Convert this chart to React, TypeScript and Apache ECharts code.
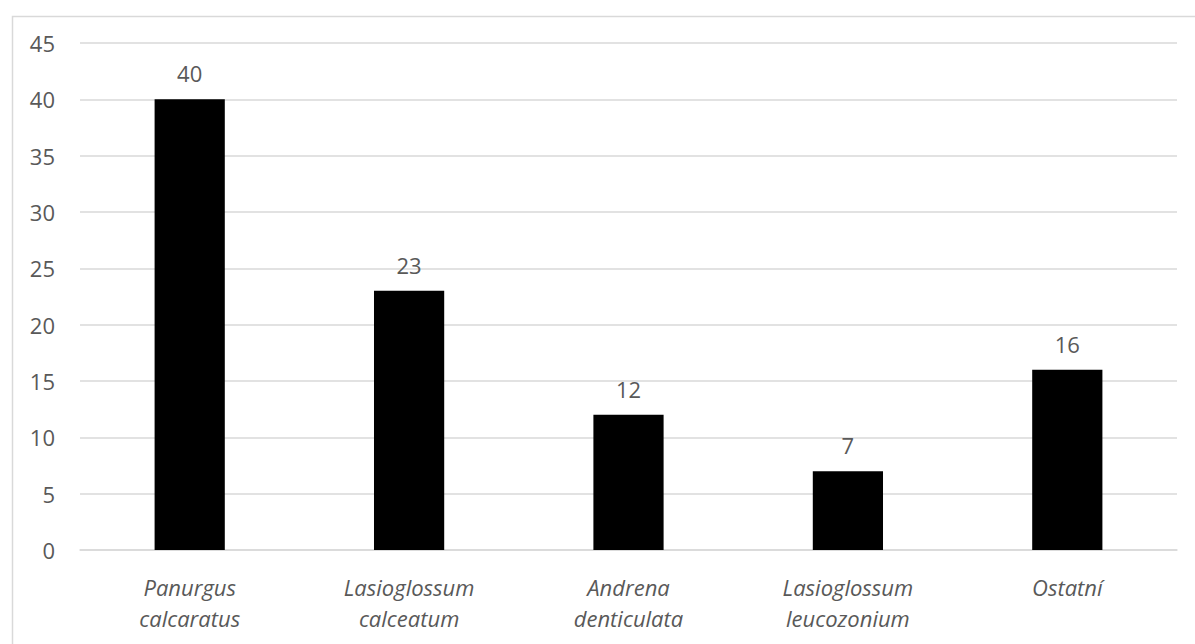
import React, { useEffect, useRef } from "react";
import * as echarts from "echarts";

const categories = [
  "Panurgus\ncalcaratus",
  "Lasioglossum\ncalceatum",
  "Andrena\ndenticulata",
  "Lasioglossum\nleucozonium",
  "Ostatní",
];
const values = [40, 23, 12, 7, 16];
const yMin = 0;
const yMax = 45;
const yInterval = 5;

export default function App() {
  const ref = useRef<HTMLDivElement>(null);
  useEffect(() => {
    if (!ref.current) return;
    const chart = echarts.init(ref.current, undefined, { renderer: "svg" });
    const font = "'Open Sans', 'Noto Sans', sans-serif";
    chart.setOption({
      animation: false,
      backgroundColor: "#ffffff",
      graphic: [
        {
          type: "rect",
          left: 10,
          top: 14,
          shape: { width: 1200, height: 650 },
          style: { fill: "none", stroke: "#d9d9d9", lineWidth: 1.5 },
          silent: true,
        },
      ],
      grid: { left: 80, right: 18, top: 43, bottom: 94, containLabel: false },
      xAxis: {
        type: "category",
        data: categories,
        axisLine: { lineStyle: { color: "#d9d9d9", width: 1.5 } },
        axisTick: { show: false },
        axisLabel: {
          color: "#595959",
          fontFamily: font,
          fontSize: 22,
          fontStyle: "italic",
          lineHeight: 31,
          margin: 21,
          interval: 0,
        },
      },
      yAxis: {
        type: "value",
        min: yMin,
        max: yMax,
        interval: yInterval,
        axisLine: { show: false },
        axisTick: { show: false },
        splitLine: { lineStyle: { color: "#d9d9d9", width: 1.5 } },
        axisLabel: {
          color: "#595959",
          fontFamily: font,
          fontSize: 22,
          margin: 25,
        },
      },
      series: [
        {
          type: "bar",
          data: values,
          barWidth: "32%",
          itemStyle: { color: "#000000" },
          label: {
            show: true,
            position: "top",
            distance: 15,
            color: "#595959",
            fontFamily: font,
            fontSize: 22,
          },
        },
      ],
    });
    return () => chart.dispose();
  }, []);
  return (
    <div style={{ position: "absolute", left: 0, top: 0 }}>
      <div ref={ref} style={{ width: 1195, height: 644 }} />
    </div>
  );
}
